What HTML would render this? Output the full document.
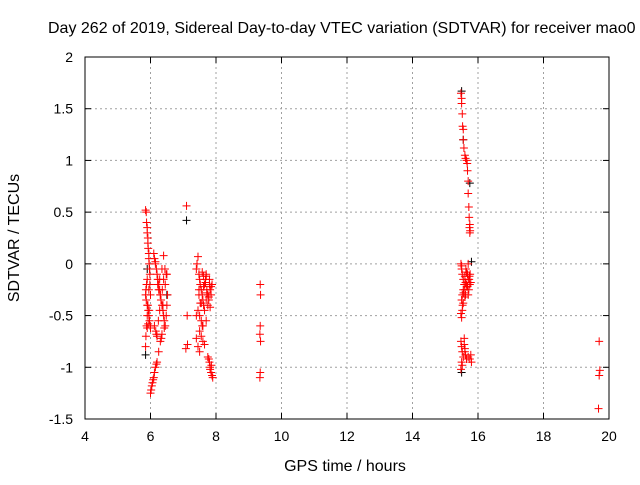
<!DOCTYPE html>
<html><head><meta charset="utf-8"><style>
body{margin:0;background:#fff}
svg text{font-family:"Liberation Sans",sans-serif;font-size:14px;fill:#000}
svg text.big{font-size:16px}
</style></head><body>
<svg id="chart" width="640" height="480">
<text class="big" x="48" y="33">Day 262 of 2019, Sidereal Day-to-day VTEC variation (SDTVAR) for receiver mao0</text>
<text class="big" x="345" y="471" text-anchor="middle">GPS time / hours</text>
<text class="big" transform="translate(19,238) rotate(-90)" text-anchor="middle">SDTVAR / TECUs</text>
<g id="grid"></g><g id="ticks"></g><g id="marks"></g>
<rect x="85" y="57" width="524" height="362" fill="none" stroke="#000"/>
</svg>
<script>
const xTicks=[4,6,8,10,12,14,16,18,20];
const yTicks=[2,1.5,1,0.5,0,-0.5,-1,-1.5];
const redHours=[
5.85,5.87,5.88,5.9,5.9,5.92,5.92,5.93,5.95,5.95,
5.96,5.97,5.98,5.9,5.88,5.86,5.85,5.87,5.9,5.93,
5.95,5.97,5.99,6.0,6.0,5.98,5.95,5.92,5.9,5.88,
5.86,5.85,5.9,5.93,5.96,
6.0,6.02,6.04,6.06,6.08,6.1,6.12,6.15,6.18,6.2,
6.25,6.3,6.33,6.35,
6.1,6.12,6.15,6.18,6.2,6.22,6.25,6.28,6.3,6.32,
6.35,6.38,6.4,6.42,6.45,6.48,6.5,6.52,6.12,6.16,
6.2,6.24,6.28,6.32,6.36,6.4,6.44,6.48,6.15,6.22,
6.3,6.38,6.45,6.5,6.25,6.35,6.42,6.18,6.28,6.4,
7.1,7.12,7.13,7.08,
7.4,7.42,7.45,7.48,7.5,7.52,7.55,7.58,7.6,7.62,
7.65,7.68,7.7,7.72,7.75,7.78,7.8,7.82,7.85,7.88,
7.45,7.5,7.55,7.6,7.65,7.7,7.75,7.8,7.85,7.48,
7.52,7.58,7.62,7.68,7.72,7.78,7.82,7.5,7.55,7.6,
7.65,7.7,7.4,7.45,7.5,7.75,7.8,7.82,7.85,7.88,
7.9,7.78,7.82,7.86,7.4,7.48,7.55,7.62,7.7,7.58,
9.35,9.36,9.35,9.34,9.36,9.35,9.34,
15.48,15.5,15.5,15.52,15.53,15.55,15.55,15.57,15.6,15.62,
15.65,15.67,15.68,15.7,15.7,15.72,15.73,15.75,15.74,15.76,
15.75,
15.48,15.5,15.52,15.55,15.58,15.6,15.62,15.65,15.68,15.7,
15.72,15.75,15.78,15.5,15.53,15.56,15.6,15.63,15.66,15.7,
15.73,15.76,15.52,15.55,15.6,15.65,15.7,15.48,15.5,15.55,
15.62,15.68,15.74,15.5,15.52,
15.48,15.5,15.52,15.55,15.58,15.6,15.62,15.65,15.7,15.75,
15.78,15.8,15.52,15.58,15.48,15.5,15.6,
19.7,19.72,19.7,19.68];
const redValues=[
0.52,0.5,0.4,0.35,0.3,0.25,0.2,0.15,0.1,0.05,
0.0,-0.05,-0.1,-0.15,-0.2,-0.25,-0.3,-0.35,-0.4,-0.45,
-0.5,-0.55,-0.6,-0.62,-0.3,-0.2,-0.25,-0.4,-0.5,-0.6,
-0.7,-0.8,-0.62,-0.58,-0.45,
-1.25,-1.22,-1.18,-1.15,-1.12,-1.1,-1.05,-1.0,-0.97,-0.95,
-0.85,-0.75,-0.72,-0.68,
0.1,0.05,0.0,-0.05,-0.1,-0.15,-0.2,-0.25,-0.3,-0.35,
-0.4,-0.45,-0.5,-0.55,-0.6,-0.5,-0.4,-0.3,-0.6,-0.65,
-0.7,-0.55,-0.45,-0.35,-0.25,-0.15,-0.05,-0.1,0.02,-0.2,
-0.3,-0.4,-0.2,-0.1,-0.25,-0.05,-0.62,-0.68,-0.15,0.08,
0.56,-0.5,-0.78,-0.82,
-0.05,0.0,0.07,-0.1,-0.15,-0.2,-0.25,-0.3,-0.35,-0.4,
-0.2,-0.15,-0.1,-0.25,-0.3,-0.35,-0.2,-0.25,-0.3,-0.2,
-0.45,-0.5,-0.55,-0.6,-0.45,-0.35,-0.4,-0.15,-0.22,-0.3,
-0.38,-0.08,-0.12,-0.18,-0.28,-0.32,-0.42,-0.65,-0.7,-0.75,
-0.78,-0.55,-0.72,-0.8,-0.85,-0.9,-0.95,-1.0,-1.05,-1.08,
-1.1,-0.92,-1.02,-0.98,-0.5,-0.25,-0.38,-0.22,-0.12,-0.6,
-0.2,-0.3,-0.6,-0.68,-0.75,-1.05,-1.1,
1.65,1.6,1.55,1.45,1.33,1.3,1.2,1.12,1.05,1.02,
1.0,0.97,0.9,0.8,0.68,0.55,0.45,0.38,0.35,0.32,
0.3,
0.0,-0.05,-0.1,-0.15,-0.2,-0.25,-0.3,-0.2,-0.1,-0.15,
-0.25,-0.2,-0.18,-0.35,-0.4,-0.28,-0.12,-0.05,-0.22,-0.3,
-0.15,-0.1,-0.45,-0.38,-0.32,-0.08,0.0,-0.48,-0.52,-0.25,
-0.18,-0.22,-0.12,-0.02,-0.3,
-0.75,-0.8,-0.85,-0.9,-0.78,-0.82,-0.88,-0.92,-0.9,-0.92,
-0.88,-0.95,-0.98,-0.72,-1.02,-0.95,-0.85,
-0.75,-1.03,-1.08,-1.4];
const blackHours=[5.85,5.9,6.5,7.1,15.5,15.5,15.75,15.8,15.55];
const blackValues=[-0.88,-0.05,-0.3,0.42,-1.05,1.67,0.78,0.02,1.2];
const X=h=>85+(h-4)*524/16, Y=v=>57+(2-v)*362/3.5;
const NS='http://www.w3.org/2000/svg';
const grid=document.getElementById('grid'),ticks=document.getElementById('ticks'),marks=document.getElementById('marks');
function mk(t,a,p){const e=document.createElementNS(NS,t);for(const k in a)e.setAttribute(k,a[k]);p.appendChild(e);return e;}
xTicks.forEach((t,i)=>{const x=X(t);
 if(i>0&&i<xTicks.length-1){const g=mk('line',{x1:x,y1:57,x2:x,y2:419,stroke:'#a0a0a0','stroke-dasharray':'2,3'},grid);
 
 }
 mk('line',{x1:x,y1:419,x2:x,y2:413,stroke:'#000'},ticks);mk('line',{x1:x,y1:57,x2:x,y2:63,stroke:'#000'},ticks);
 const l=mk('text',{x:x,y:441,'text-anchor':'middle'},ticks);l.textContent=t;
 
 });
yTicks.forEach((t,i)=>{const y=Y(t);
 if(i>0&&i<yTicks.length-1){const g=mk('line',{x1:85,y1:y,x2:609,y2:y,stroke:'#a0a0a0','stroke-dasharray':'2,3'},grid);
 
 }
 mk('line',{x1:85,y1:y,x2:91,y2:y,stroke:'#000'},ticks);mk('line',{x1:609,y1:y,x2:603,y2:y,stroke:'#000'},ticks);
 const l=mk('text',{x:73,y:y+5,'text-anchor':'end'},ticks);l.textContent=t;
 
 });
function plus(h,v,c,name){const x=X(h),y=Y(v);
 const p=mk('path',{d:`M${x-4},${y}H${x+4}M${x},${y-4}V${y+4}`,stroke:c,'stroke-width':1,fill:'none'},marks);
 
 }
blackHours.forEach((h,i)=>plus(h,blackValues[i],'#000','black-point'));
redHours.forEach((h,i)=>plus(h,redValues[i],'#f00','red-point'));
</script>
</body></html>
